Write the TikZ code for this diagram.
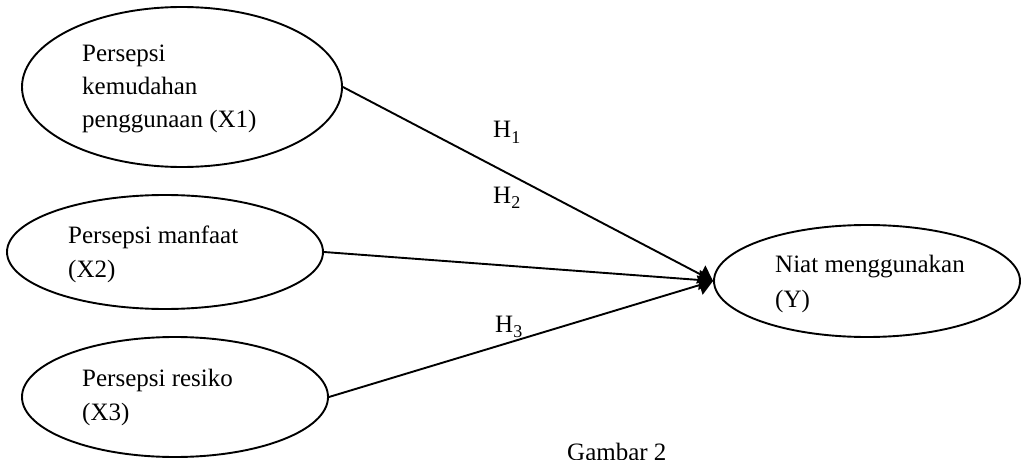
\documentclass[tikz,border=0pt]{standalone}
\usepackage{fontspec}
\setmainfont{Liberation Serif}
\usetikzlibrary{shapes.geometric,arrows.meta}
\newcommand{\hsub}[1]{\raisebox{-0.22em}{\fontsize{18}{18}\selectfont #1}}
\begin{document}
\begin{tikzpicture}[x=1pt,y=-1pt,
  var/.style={draw,ellipse,line width=1.9pt,inner sep=0pt},
  txt/.style={anchor=base west,inner sep=0pt,font=\fontsize{25}{33}\selectfont},
  link/.style={line width=1.9pt,-{Triangle[length=14pt,width=20pt]}}]
\useasboundingbox (0,0) rectangle (1021,460);
\node[var,minimum width=320pt,minimum height=160pt] (x1) at (182,87) {};
\node[var,minimum width=316pt,minimum height=114pt] (x2) at (165,252) {};
\node[var,minimum width=306pt,minimum height=120pt] (x3) at (175,397) {};
\node[var,minimum width=306pt,minimum height=112pt] (y) at (867,281) {};
\node[txt] (t1a) at (82,62) {Persepsi};
\node[txt] (t1b) at (82,95) {kemudahan};
\node[txt] (t1c) at (82,128) {penggunaan (X1)};
\node[txt] (t2a) at (68,243) {Persepsi manfaat};
\node[txt] (t2b) at (68,277) {(X2)};
\node[txt] (t3a) at (82,386) {Persepsi resiko};
\node[txt] (t3b) at (82,420) {(X3)};
\node[txt] (tya) at (775,272) {Niat menggunakan};
\node[txt] (tyb) at (775,307) {(Y)};
\node[txt] (h1) at (493,138) {H\hsub{1}};
\node[txt] (h2) at (493,203) {H\hsub{2}};
\node[txt] (h3) at (495,332) {H\hsub{3}};
\node[txt] (cap) at (567,460) {Gambar 2};
\draw[link] (x1.east) -- (y.west);
\draw[link] (x2.east) -- (y.west);
\draw[link] (x3.east) -- (y.west);
\end{tikzpicture}
\end{document}
